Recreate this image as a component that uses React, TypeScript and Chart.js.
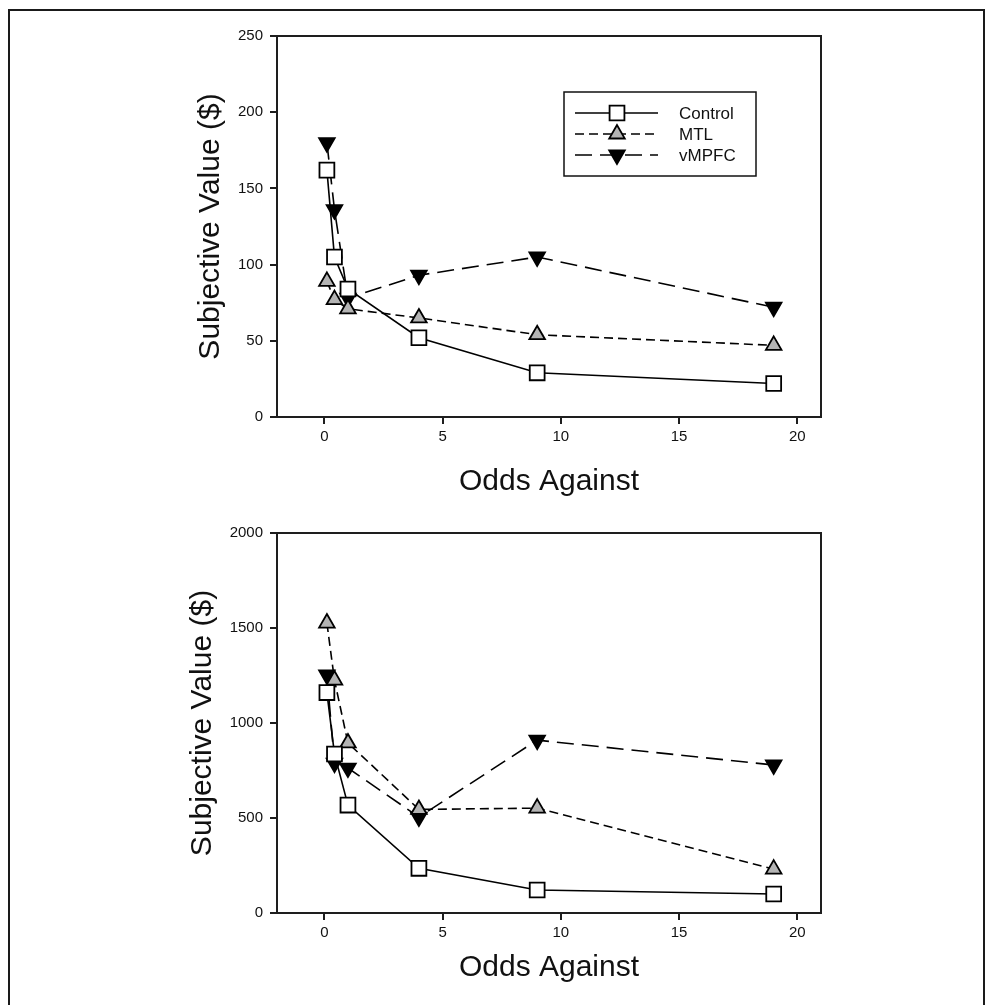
import React, { useEffect, useRef } from "react";
import { Chart, registerables } from "chart.js";

Chart.register(...registerables);
Chart.defaults.font.family = "'Liberation Sans', Arial, sans-serif";
Chart.defaults.color = "#111";

// ---- data ----
const ODDS_AGAINST = [0.11, 0.43, 1, 4, 9, 19];
const X_TICKS = [0, 5, 10, 15, 20];
const SERIES_NAMES = ["Control", "MTL", "vMPFC"];

const TOP_Y_TICKS = [0, 50, 100, 150, 200, 250];
const TOP_CONTROL = [162, 105, 84, 52, 29, 22];
const TOP_MTL = [89, 77, 71, 65, 54, 47];
const TOP_VMPFC = [180, 136, 78, 93, 105, 72];

const BOTTOM_Y_TICKS = [0, 500, 1000, 1500, 2000];
const BOTTOM_CONTROL = [1160, 837, 568, 235, 121, 100];
const BOTTOM_MTL = [1526, 1226, 895, 545, 552, 231];
const BOTTOM_VMPFC = [1253, 789, 763, 505, 910, 779];

const X_TITLE = "Odds Against";
const Y_TITLE = "Subjective Value ($)";

const AXIS_COLOR = "#1e1e1e";

const SERIES_STYLES = [
  { pointStyle: "rect", radius: 10.5, bg: "#ffffff", dash: [] as number[], rotation: 0 },
  { pointStyle: "triangle", radius: 9, bg: "#b4b4b4", dash: [9, 5], rotation: 0 },
  { pointStyle: "triangle", radius: 9, bg: "#000000", dash: [17, 8], rotation: 180 },
];

type PanelProps = {
  top: number;
  height: number;
  yTicks: number[];
  series: number[][];
  showLegend: boolean;
  padLeft: number;
  padTop: number;
  padBottom: number;
  yAxisWidth: number;
  xAxisHeight: number;
};

const framePlugin = {
  id: "frame",
  afterDraw(chart: any) {
    const { ctx, chartArea } = chart;
    ctx.save();
    ctx.strokeStyle = AXIS_COLOR;
    ctx.lineWidth = 2;
    ctx.strokeRect(chartArea.left, chartArea.top, chartArea.right - chartArea.left, chartArea.bottom - chartArea.top);
    ctx.restore();
  },
};

function drawMarker(ctx: CanvasRenderingContext2D, idx: number, x: number, y: number) {
  const st = SERIES_STYLES[idx];
  ctx.save();
  ctx.setLineDash([]);
  ctx.lineWidth = 1.8;
  ctx.strokeStyle = "#000";
  ctx.fillStyle = st.bg;
  ctx.beginPath();
  if (st.pointStyle === "rect") {
    const s = Math.SQRT1_2 * st.radius;
    ctx.rect(x - s, y - s, 2 * s, 2 * s);
  } else {
    const r = st.radius;
    const w = r * Math.sin(Math.PI / 3);
    if (st.rotation === 180) {
      ctx.moveTo(x, y + r);
      ctx.lineTo(x - w, y - r / 2);
      ctx.lineTo(x + w, y - r / 2);
    } else {
      ctx.moveTo(x, y - r);
      ctx.lineTo(x - w, y + r / 2);
      ctx.lineTo(x + w, y + r / 2);
    }
    ctx.closePath();
  }
  ctx.fill();
  ctx.stroke();
  ctx.restore();
}

const legendPlugin = {
  id: "boxLegend",
  afterDraw(chart: any) {
    const opts = chart.options.plugins.boxLegend;
    if (!opts || !opts.show) return;
    const ctx: CanvasRenderingContext2D = chart.ctx;
    const bx = 564, by = 92, bw = 192, bh = 84;
    ctx.save();
    ctx.strokeStyle = "#111";
    ctx.lineWidth = 1.5;
    ctx.strokeRect(bx, by, bw, bh);
    const rows = [113, 134, 155];
    SERIES_NAMES.forEach((name, i) => {
      const y = rows[i];
      ctx.save();
      ctx.strokeStyle = "#000";
      ctx.lineWidth = 1.5;
      ctx.setLineDash(SERIES_STYLES[i].dash);
      ctx.beginPath();
      ctx.moveTo(575, y);
      ctx.lineTo(658, y);
      ctx.stroke();
      ctx.restore();
      drawMarker(ctx, i, 617, y);
      ctx.fillStyle = "#111";
      ctx.font = "17px 'Liberation Sans', Arial, sans-serif";
      ctx.textBaseline = "middle";
      ctx.textAlign = "left";
      ctx.fillText(name, 679, y + 1);
    });
    ctx.restore();
  },
};

function Panel(p: PanelProps) {
  const ref = useRef<HTMLCanvasElement | null>(null);
  useEffect(() => {
    if (!ref.current) return;
    const datasets = p.series.map((vals, i) => {
      const st = SERIES_STYLES[i];
      return {
        label: SERIES_NAMES[i],
        data: ODDS_AGAINST.map((x, j) => ({ x, y: vals[j] })),
        borderColor: "#000",
        borderWidth: 1.6,
        borderDash: st.dash,
        backgroundColor: st.bg,
        pointStyle: st.pointStyle,
        pointRadius: st.radius,
        pointRotation: st.rotation,
        pointBackgroundColor: st.bg,
        pointBorderColor: "#000",
        pointBorderWidth: 1.8,
        tension: 0,
        fill: false,
      };
    });
    const yMax = p.yTicks[p.yTicks.length - 1];
    const chart = new Chart(ref.current, {
      type: "line",
      data: { datasets } as any,
      plugins: [framePlugin, legendPlugin],
      options: {
        animation: false,
        responsive: false,
        events: [],
        layout: { padding: { left: p.padLeft, top: p.padTop, right: 169, bottom: p.padBottom } },
        plugins: {
          legend: { display: false },
          tooltip: { enabled: false },
          boxLegend: { show: p.showLegend },
        } as any,
        scales: {
          x: {
            type: "linear",
            min: -2,
            max: 21,
            afterBuildTicks: (s: any) => {
              s.ticks = X_TICKS.map((v) => ({ value: v }));
            },
            afterFit: (s: any) => {
              s.height = p.xAxisHeight;
            },
            grid: { drawOnChartArea: false, drawTicks: true, tickLength: 7, lineWidth: 2, color: AXIS_COLOR },
            border: { display: true, width: 2, color: AXIS_COLOR },
            ticks: { font: { size: 15 }, color: "#111", padding: 4, maxRotation: 0, callback: (v: any) => String(v) },
            title: { display: true, text: X_TITLE, font: { size: 30 }, color: "#111", padding: 0 },
          },
          y: {
            type: "linear",
            min: 0,
            max: yMax,
            afterBuildTicks: (s: any) => {
              s.ticks = p.yTicks.map((v) => ({ value: v }));
            },
            afterFit: (s: any) => {
              s.width = p.yAxisWidth;
            },
            grid: { drawOnChartArea: false, drawTicks: true, tickLength: 7, lineWidth: 2, color: AXIS_COLOR },
            border: { display: true, width: 2, color: AXIS_COLOR },
            ticks: { font: { size: 15 }, color: "#111", padding: 7, callback: (v: any) => String(v) },
            title: { display: true, text: Y_TITLE, font: { size: 30 }, color: "#111", padding: 0 },
          },
        },
      } as any,
    });
    return () => chart.destroy();
  }, []);
  return (
    <canvas
      ref={ref}
      width={990}
      height={p.height}
      style={{ position: "absolute", left: 0, top: p.top, width: 990, height: p.height }}
    />
  );
}

export default function App() {
  return (
    <div style={{ position: "absolute", left: 0, top: 0, width: 990, height: 1005, background: "#fff", overflow: "hidden" }}>
      <div
        style={{
          position: "absolute",
          left: 8,
          top: 9,
          width: 973,
          height: 1010,
          borderLeft: "2px solid #1a1a1a",
          borderTop: "2px solid #1a1a1a",
          borderRight: "2px solid #1a1a1a",
        }}
      />
      <Panel
        top={0}
        height={500}
        yTicks={TOP_Y_TICKS}
        series={[TOP_CONTROL, TOP_MTL, TOP_VMPFC]}
        showLegend={true}
        padLeft={193}
        padTop={36}
        padBottom={0}
        yAxisWidth={84}
        xAxisHeight={83}
      />
      <Panel
        top={497}
        height={508}
        yTicks={BOTTOM_Y_TICKS}
        series={[BOTTOM_CONTROL, BOTTOM_MTL, BOTTOM_VMPFC]}
        showLegend={false}
        padLeft={185}
        padTop={36}
        padBottom={19}
        yAxisWidth={92}
        xAxisHeight={73}
      />
    </div>
  );
}
